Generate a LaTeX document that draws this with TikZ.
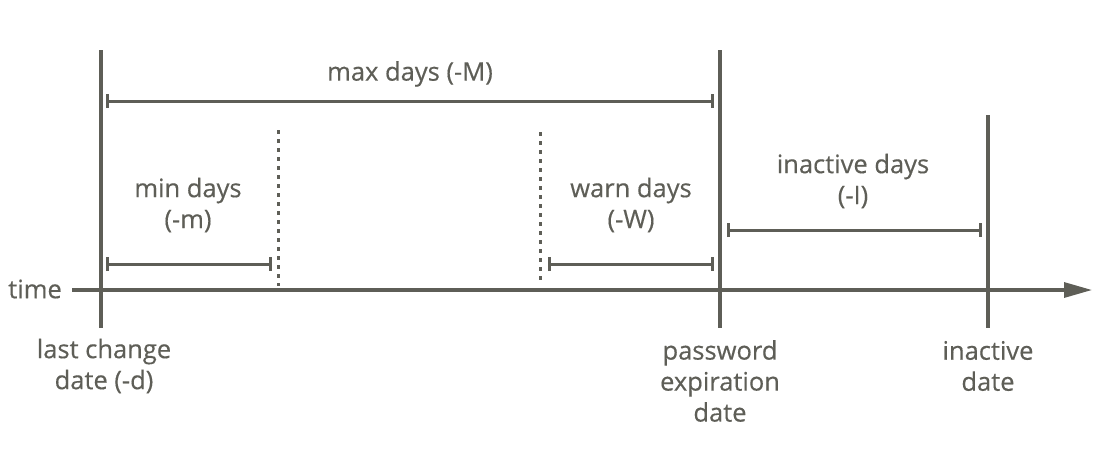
\documentclass[tikz,border=0pt]{standalone}
\usepackage{fontspec}
\setmainfont{Open Sans}[FakeBold=0.4]
\usetikzlibrary{arrows.meta}
\definecolor{ink}{HTML}{5E5E57}

\tikzset{
  marker/.style={draw=ink, line width=3.2pt},
  guide/.style={draw=ink, line width=3pt, dash pattern=on 4pt off 5pt},
  span/.style={draw=ink, line width=3pt, {Bar[width=14pt]}-{Bar[width=14pt]}},
  txt/.style={text=ink, font=\fontsize{25.5}{31}\selectfont, align=center, inner sep=0pt}
}

\begin{document}
\begin{tikzpicture}[x=1pt, y=-1pt]
\useasboundingbox (0,0) rectangle (1108,448);

% time axis
\coordinate (t0) at (72,290);
\coordinate (t1) at (1092,290);
\draw[marker, -{Triangle[length=28pt,width=15pt]}] (t0) -- (t1);
\node[txt, anchor=east] (time) at (62,289) {time};

% date markers
\coordinate (lastTop) at (101,50);
\coordinate (lastBot) at (101,328);
\coordinate (expTop) at (720,50);
\coordinate (expBot) at (720,328);
\coordinate (inaTop) at (988,115);
\coordinate (inaBot) at (988,328);
\draw[marker] (lastTop) -- (lastBot);
\draw[marker] (expTop) -- (expBot);
\draw[marker] (inaTop) -- (inaBot);

\node[txt] (last) at (104,366) {last change\\date (-d)};
\node[txt] (exp) at (720,381) {password\\expiration\\date};
\node[txt] (ina) at (988,366) {inactive\\date};

% dotted guides
\coordinate (minTop) at (278,130);
\coordinate (minBot) at (278,286);
\coordinate (warnTop) at (540,132);
\coordinate (warnBot) at (540,284);
\draw[guide] (minTop) -- (minBot);
\draw[guide] (warnTop) -- (warnBot);

% spans
\coordinate (maxA) at (106,101);
\coordinate (maxB) at (714,101);
\draw[span] (maxA) -- (maxB);
\node[txt] (maxlbl) at (410,74) {max days (-M)};

\coordinate (minA) at (106,264);
\coordinate (minB) at (272,264);
\draw[span] (minA) -- (minB);
\node[txt] (minlbl) at (188,205) {min days\\(-m)};

\coordinate (warnA) at (548,264);
\coordinate (warnB) at (714,264);
\draw[span] (warnA) -- (warnB);
\node[txt] (warnlbl) at (631,205) {warn days\\(-W)};

\coordinate (inaA) at (727,230);
\coordinate (inaB) at (982,230);
\draw[span] (inaA) -- (inaB);
\node[txt] (inalbl) at (853,181) {inactive days\\(-I)};

\end{tikzpicture}
\end{document}
